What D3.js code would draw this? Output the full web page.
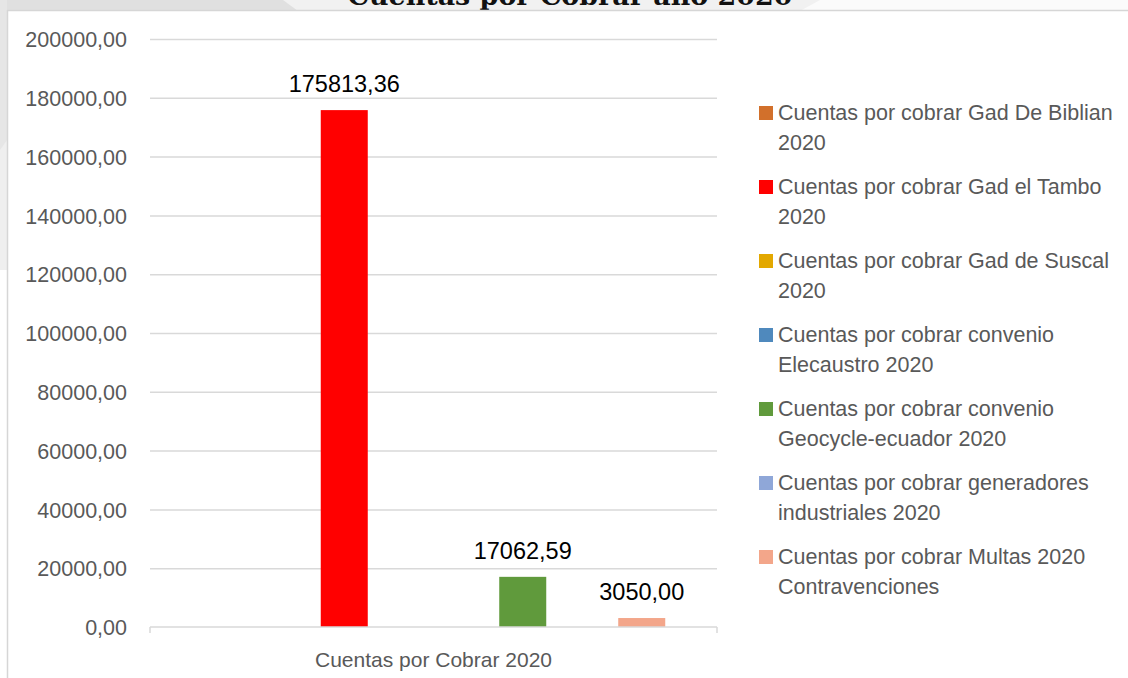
<!DOCTYPE html>
<html>
<head>
<meta charset="utf-8">
<script src="https://cdn.jsdelivr.net/npm/d3@7"></script>
<style>
  html, body { margin: 0; padding: 0; background: #fff; }
  svg { display: block; font-family: "Liberation Sans", Arial, sans-serif; }
</style>
</head>
<body>
<svg id="chart" width="1128" height="678"></svg>
<script>
// Data
const title = 'Cuentas por Cobrar año 2020'
const categories = ['Cuentas por Cobrar 2020']
const seriesNames = [
  'Cuentas por cobrar Gad De Biblian 2020',
  'Cuentas por cobrar Gad el Tambo 2020',
  'Cuentas por cobrar Gad de Suscal 2020',
  'Cuentas por cobrar convenio Elecaustro 2020',
  'Cuentas por cobrar convenio Geocycle-ecuador 2020',
  'Cuentas por cobrar generadores industriales 2020',
  'Cuentas por cobrar Multas 2020 Contravenciones',
]
// only three series carry a value, the rest are empty
const seriesValues = [null, 175813.36, null, null, 17062.59, null, 3050.00]
const seriesColors = ['#d2702b', '#ff0000', '#e3a800', '#4f89bd', '#609a3c', '#8fa7d8', '#f3a68a']
const yTicks = [0, 20000, 40000, 60000, 80000, 100000, 120000, 140000, 160000, 180000, 200000]

const svg = d3.select('#chart')
const W = 1128, H = 678

// Background strip around the chart frame
const bg = svg.append('g')
bg.append('rect').attr('x', 0).attr('y', 0).attr('width', W).attr('height', 11).attr('fill', '#f1f1f1')
bg.append('path').attr('d', 'M0,0 H283 L298,11 H0 Z').attr('fill', '#e0e0e0')
bg.append('path').attr('d', 'M820,0 H1128 V11 H800 Z').attr('fill', '#fbfbfb')
bg.append('rect').attr('x', 0).attr('y', 0).attr('width', 7).attr('height', 270).attr('fill', '#e6e6e6')
bg.append('path').attr('d', 'M0,150 L7,140 V270 H0 Z').attr('fill', '#efefef')

// Title, mostly cut off at the top edge (as in the original)
const titleEl = svg.append('text')
  .attr('x', 570).attr('y', 4.5)
  .attr('text-anchor', 'middle')
  .attr('font-family', '"DejaVu Serif", serif')
  .attr('font-weight', 'bold')
  .attr('font-size', 26)
  .attr('fill', '#111')
  .text(title)
const tl = titleEl.node().getComputedTextLength()
titleEl.attr('font-size', 26 * 445 / tl)

// Chart frame
const frame = svg.append('g')
frame.append('rect').attr('x', 7).attr('y', 10).attr('width', W).attr('height', H).attr('fill', '#fff')
frame.append('line').attr('x1', 7.5).attr('x2', 7.5).attr('y1', 10).attr('y2', H)
  .attr('stroke', '#d6d6d6').attr('stroke-width', 1.5)
frame.append('line').attr('x1', 7).attr('x2', W).attr('y1', 10.5).attr('y2', 10.5)
  .attr('stroke', '#d6d6d6').attr('stroke-width', 1.5)

// Scales
const plot = { left: 150, right: 717, top: 39, bottom: 627 }

const x0 = d3.scaleBand()
  .domain(categories)
  .range([plot.left, plot.right])

// the original keeps one empty slot ahead of the first series
const slots = ['', ...seriesNames]
const x1 = d3.scaleBand()
  .domain(slots)
  .range([0, x0.bandwidth()])
  .paddingInner(0.21)
  .paddingOuter(0.87)

const y = d3.scaleLinear()
  .domain([0, 200000])
  .range([plot.bottom, plot.top])

const locale = d3.formatLocale({ decimal: ',', thousands: '.', grouping: [3], currency: ['$', ''] })
const fmt = locale.format('.2f')

// Gridlines + y axis labels
const yAxis = d3.axisLeft(y)
  .tickValues(yTicks)
  .tickFormat(fmt)
  .tickSize(-(plot.right - plot.left))
  .tickPadding(23)

const yG = svg.append('g')
  .attr('transform', `translate(${plot.left},0)`)
  .call(yAxis)
yG.select('.domain').remove()
yG.selectAll('.tick line')
  .attr('stroke', '#d9d9d9')
  .attr('stroke-width', 1.5)
yG.selectAll('.tick text')
  .attr('font-family', '"Liberation Sans", Arial, sans-serif')
  .attr('font-size', 21.5)
  .attr('fill', '#595959')
  .attr('dy', '0.36em')
yG.selectAll('.tick').filter(d => d === 0).select('line').remove()

// Bars
const rows = seriesNames.map((name, i) => ({ name, value: seriesValues[i], color: seriesColors[i] }))
  .filter(d => d.value != null)

const barG = svg.append('g')
  .attr('transform', `translate(${x0(categories[0])},0)`)

barG.selectAll('rect')
  .data(rows).join('rect')
  .attr('x', d => x1(d.name))
  .attr('width', x1.bandwidth())
  .attr('y', d => y(d.value))
  .attr('height', d => y(0) - y(d.value))
  .attr('fill', d => d.color)

barG.selectAll('text')
  .data(rows).join('text')
  .attr('x', d => x1(d.name) + x1.bandwidth() / 2)
  .attr('y', d => y(d.value) - 18)
  .attr('text-anchor', 'middle')
  .attr('font-size', 23.5)
  .attr('fill', '#000')
  .text(d => fmt(d.value))

// x axis
const xAxis = d3.axisBottom(x0).tickSize(0).tickPadding(25)
const xG = svg.append('g')
  .attr('transform', `translate(0,${plot.bottom})`)
  .call(xAxis)
xG.select('.domain').remove()
xG.append('line')
  .attr('x1', plot.left).attr('x2', plot.right)
  .attr('stroke', '#d9d9d9').attr('stroke-width', 1.5)
;[plot.left, plot.right].forEach(px => {
  xG.append('line').attr('x1', px).attr('x2', px).attr('y1', 0).attr('y2', 6)
    .attr('stroke', '#d9d9d9').attr('stroke-width', 1.5)
})
xG.selectAll('.tick text')
  .attr('font-family', '"Liberation Sans", Arial, sans-serif')
  .attr('font-size', 21)
  .attr('fill', '#595959')

// Legend
const legend = svg.append('g').attr('transform', 'translate(759,0)')
const wrapWidth = 345

seriesNames.forEach((name, i) => {
  const base = 120 + i * 74
  const item = legend.append('g')
  item.append('rect')
    .attr('x', 0).attr('y', base - 14)
    .attr('width', 14).attr('height', 14)
    .attr('fill', seriesColors[i])

  const txt = item.append('text')
    .attr('x', 19).attr('y', base)
    .attr('font-size', 21.5)
    .attr('fill', '#595959')

  // simple word wrap
  const words = name.split(' ')
  let line = []
  let lineNo = 0
  let tspan = txt.append('tspan').attr('x', 19).attr('y', base)
  words.forEach(w => {
    line.push(w)
    tspan.text(line.join(' '))
    if (tspan.node().getComputedTextLength() > wrapWidth && line.length > 1) {
      line.pop()
      tspan.text(line.join(' '))
      line = [w]
      lineNo++
      tspan = txt.append('tspan').attr('x', 19).attr('y', base + lineNo * 29.5).text(w)
    }
  })
})
</script>
</body>
</html>
